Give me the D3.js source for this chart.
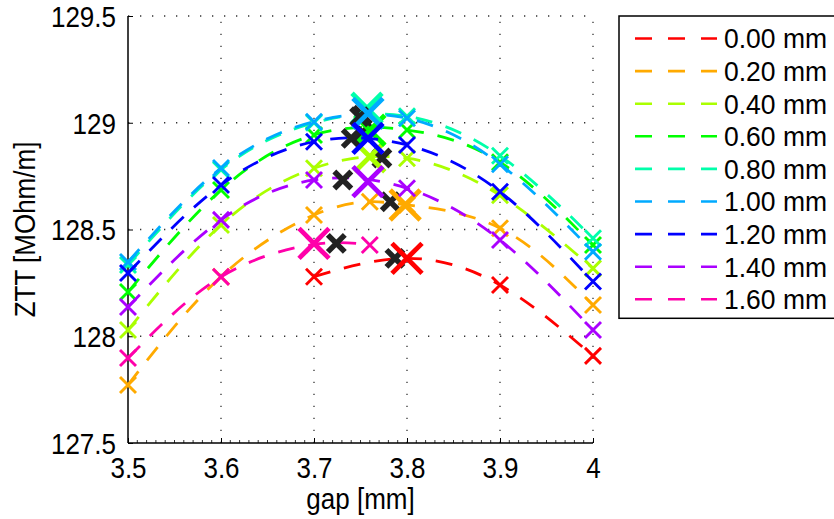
<!DOCTYPE html>
<html>
<head>
<meta charset="utf-8">
<script src="https://cdn.jsdelivr.net/npm/d3@7/dist/d3.min.js"></script>
<style>
  html, body { margin: 0; padding: 0; background: #fff; }
  svg text { font-family: "Liberation Sans", Arial, Helvetica, sans-serif; fill: #000; }
</style>
</head>
<body>
<svg id="chart" width="834" height="519"></svg>
<script>
// Offsets shown in the legend and their line colours
const offsets = ["0.00 mm", "0.20 mm", "0.40 mm", "0.60 mm", "0.80 mm", "1.00 mm", "1.20 mm", "1.40 mm", "1.60 mm"];
const colors  = ["#ff0000", "#ffaa00", "#aaff00", "#00ff00", "#00ffaa", "#00aaff", "#0000ff", "#aa00ff", "#ff00aa"];

// Measured gap positions [mm] for each offset
const gap000 = [3.7, 3.8, 3.9, 4.0];
const gap020 = [3.5, 3.6, 3.7, 3.76, 3.8, 3.9, 4.0];
const gapStd = [3.5, 3.6, 3.7, 3.8, 3.9, 4.0];
const gap160 = [3.5, 3.6, 3.7, 3.76];

// Transverse impedance ZTT [MOhm/m] at those gaps
const ztt000 = [128.279, 128.365, 128.240, 127.908];
const ztt020 = [127.772, 128.279, 128.568, 128.630, 128.615, 128.506, 128.146];
const ztt040 = [128.029, 128.521, 128.787, 128.834, 128.660, 128.318];
const ztt060 = [128.207, 128.685, 128.943, 128.966, 128.815, 128.427];
const ztt080 = [128.334, 128.780, 129.000, 129.030, 128.845, 128.459];
const ztt100 = [128.348, 128.788, 129.005, 129.021, 128.806, 128.396];
const ztt120 = [128.296, 128.708, 128.911, 128.896, 128.677, 128.256];
const ztt140 = [128.137, 128.545, 128.732, 128.693, 128.451, 128.029];
const ztt160 = [127.898, 128.278, 128.430, 128.427];

// Highlighted maximum per offset (gap, ZTT)
const peakGap = [3.800, 3.798, 3.760, 3.760, 3.757, 3.758, 3.758, 3.758, 3.700];
const peakZtt = [128.365, 128.615, 128.841, 128.965, 129.068, 129.044, 128.927, 128.724, 128.435];

// Optimum from the fit per offset (gap, ZTT), drawn in black
const optGap = [3.787, 3.782, 3.773, 3.752, 3.752, 3.749, 3.740, 3.731, 3.724];
const optZtt = [128.365, 128.630, 128.835, 128.955, 129.035, 129.028, 128.927, 128.732, 128.435];

// Axis ticks
const xTicks = [3.5, 3.6, 3.7, 3.8, 3.9, 4.0];
const xTickLabels = ["3.5", "3.6", "3.7", "3.8", "3.9", "4"];
const yTicks = [127.5, 128, 128.5, 129, 129.5];
const yTickLabels = ["127.5", "128", "128.5", "129", "129.5"];

const gapSets = [gap000, gap020, gapStd, gapStd, gapStd, gapStd, gapStd, gapStd, gap160];
const zttSets = [ztt000, ztt020, ztt040, ztt060, ztt080, ztt100, ztt120, ztt140, ztt160];

const svg = d3.select("#chart");
const pLeft = 128, pRight = 593, pTop = 16, pBottom = 443;
const tall = "scale(1,1.1)";   // slightly condensed lettering

const x = d3.scaleLinear().domain([3.5, 4.0]).range([pLeft, pRight]);
const y = d3.scaleLinear().domain([127.5, 129.5]).range([pBottom, pTop]);

// dotted grid
const grid = svg.append("g").attr("stroke", "#333").attr("stroke-width", 1.3)
  .attr("stroke-dasharray", "1.3,10.7");
grid.selectAll("line.gx").data(xTicks.slice(1)).join("line")
  .attr("x1", d => x(d)).attr("x2", d => x(d)).attr("y1", pBottom).attr("y2", pTop);
grid.selectAll("line.gy").data(yTicks.slice(1)).join("line")
  .attr("x1", pLeft).attr("x2", pRight).attr("y1", d => y(d)).attr("y2", d => y(d));

// axes with inward ticks
const xAxis = d3.axisBottom(x).tickValues(xTicks).tickSize(-5).tickFormat((d, i) => xTickLabels[i]);
const yAxis = d3.axisLeft(y).tickValues(yTicks).tickSize(-5).tickFormat((d, i) => yTickLabels[i]);

const gx = svg.append("g").attr("transform", `translate(0,${pBottom})`).call(xAxis);
const gy = svg.append("g").attr("transform", `translate(${pLeft},0)`).call(yAxis);
[gx, gy].forEach(g => {
  g.select(".domain").attr("stroke", "#000").attr("stroke-width", 1.5);
  g.selectAll(".tick line").attr("stroke", "#000").attr("stroke-width", 1);
  g.selectAll(".tick text").attr("font-size", 26)
    .style("font-family", "'Liberation Sans', Arial, sans-serif").attr("fill", "#000");
});
gx.select(".domain").attr("d", `M${pLeft},0H${pRight}`);
gy.select(".domain").attr("d", `M0,${pBottom}V${pTop}`);
gx.selectAll(".tick text").attr("dy", null).attr("y", null)
  .attr("transform", `translate(0,35) ${tall}`);
gy.selectAll(".tick text").attr("x", null).attr("dy", "0.36em")
  .attr("transform", `translate(-12,0) ${tall}`);

// minor ticks on the gap axis
const minor = d3.range(3.51, 4.0, 0.01).filter(v => Math.abs(v * 10 - Math.round(v * 10)) > 1e-6);
svg.append("g").selectAll("line").data(minor).join("line")
  .attr("x1", d => x(d)).attr("x2", d => x(d))
  .attr("y1", pBottom).attr("y2", pBottom - 3)
  .attr("stroke", "#000").attr("stroke-width", 0.8);

// axis titles
svg.append("text").attr("transform", `translate(${(pLeft + pRight) / 2},509) ${tall}`)
  .attr("text-anchor", "middle").attr("font-size", 26).text("gap [mm]");
svg.append("text").attr("transform", `translate(35,${(pTop + pBottom) / 2}) rotate(-90) ${tall}`)
  .attr("text-anchor", "middle").attr("font-size", 26).text("ZTT [MOhm/m]");

// cross marker path
const cross = r => `M${-r},${-r}L${r},${r}M${-r},${r}L${r},${-r}`;

const line = d3.line().x(d => x(d[0])).y(d => y(d[1])).curve(d3.curveNatural);
const plot = svg.append("g");

offsets.forEach((name, i) => {
  const pts = gapSets[i].map((g, k) => [g, zttSets[i][k]]);
  const g = plot.append("g");
  g.append("path").attr("d", line(pts)).attr("fill", "none")
    .attr("stroke", colors[i]).attr("stroke-width", 2.8).attr("stroke-dasharray", "17,14");
  g.selectAll("path.m").data(pts).join("path")
    .attr("d", cross(8)).attr("transform", d => `translate(${x(d[0])},${y(d[1])})`)
    .attr("stroke", colors[i]).attr("stroke-width", 2.9).attr("fill", "none");
  g.append("path").attr("d", cross(8.5))
    .attr("transform", `translate(${x(optGap[i])},${y(optZtt[i])})`)
    .attr("stroke", "#222").attr("stroke-width", 5.5).attr("fill", "none");
  g.append("path").attr("d", cross(15))
    .attr("transform", `translate(${x(peakGap[i])},${y(peakZtt[i])})`)
    .attr("stroke", colors[i]).attr("stroke-width", 4.8).attr("fill", "none");
});

// legend
const lg = svg.append("g");
const lgLeft = 619, lgTop = 16, rowH = 32.6, firstRow = 38.5;
lg.append("rect").attr("x", lgLeft).attr("y", lgTop).attr("width", 240)
  .attr("height", firstRow - lgTop + rowH * (offsets.length - 1) + 19)
  .attr("fill", "#fff").attr("stroke", "#000").attr("stroke-width", 1.5);
offsets.forEach((name, i) => {
  const ry = firstRow + i * rowH;
  lg.append("line").attr("x1", 635).attr("x2", 717).attr("y1", ry).attr("y2", ry)
    .attr("stroke", colors[i]).attr("stroke-width", 2.6).attr("stroke-dasharray", "17,16");
  lg.append("text").attr("transform", `translate(724,${ry}) scale(1,1.04)`).attr("dy", "0.36em")
    .attr("font-size", 26.5).text(name);
});
</script>
</body>
</html>
